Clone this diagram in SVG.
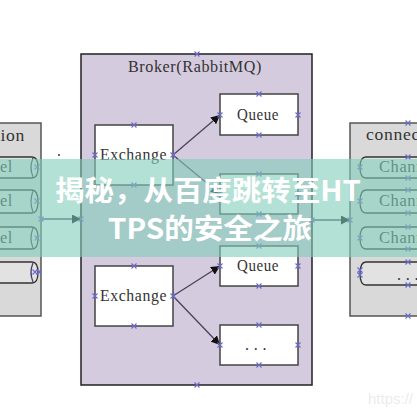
<svg xmlns="http://www.w3.org/2000/svg" width="417" height="417" viewBox="0 0 417 417">
<defs>
<style>
.t{font-family:"Liberation Serif","DejaVu Serif",serif;font-size:16px;fill:#333;letter-spacing:0.6px}
.box{fill:#fff;stroke:#444;stroke-width:1.5}
.conn{fill:#d9d9d9;stroke:#555;stroke-width:1.5}
.ch{fill:#e2e2e2;stroke:#333;stroke-width:1.3}
.ln{stroke:#4a4060;stroke-width:1.3;fill:none}
.x{stroke:#6a6ad0;stroke-width:1.1;fill:none}
.ban{font-family:"Noto Sans CJK SC","Noto Sans",sans-serif;font-weight:bold;font-size:28px;fill:#fff}
</style>
<marker id="ah" viewBox="0 0 10 10" refX="10" refY="5" markerWidth="9" markerHeight="9" markerUnits="userSpaceOnUse" orient="auto">
<path d="M0,0 L10,5 L0,10 z" fill="#111"/>
</marker>
<path id="xm" d="M-2.5,-2.5 L2.5,2.5 M-2.5,2.5 L2.5,-2.5" class="x"/>
</defs>
<rect width="417" height="417" fill="#fff"/>

<g id="conn-left">
<rect x="-80" y="123" width="121" height="193" class="conn"/>
<text x="-59" y="141" class="t" textLength="84" lengthAdjust="spacingAndGlyphs">connection</text>
<path d="M-80,157 H32 Q38,157 38,167.5 Q38,178 32,178 H-80" class="ch"/>
<path d="M33,158 Q29,167.5 33,177" class="ln" stroke="#333"/>
<text x="-46" y="172" class="t" textLength="59" lengthAdjust="spacingAndGlyphs">Channel</text>
<path d="M-80,190 H32 Q38,190 38,201.5 Q38,213 32,213 H-80" class="ch"/>
<path d="M33,191 Q29,201.5 33,212" class="ln" stroke="#333"/>
<text x="-46" y="206" class="t" textLength="59" lengthAdjust="spacingAndGlyphs">Channel</text>
<path d="M-80,227 H32 Q38,227 38,238 Q38,249 32,249 H-80" class="ch"/>
<path d="M33,228 Q29,238 33,248" class="ln" stroke="#333"/>
<text x="-46" y="243" class="t" textLength="59" lengthAdjust="spacingAndGlyphs">Channel</text>
<path d="M-80,262 H32 Q38,262 38,272.5 Q38,283 32,283 H-80" class="ch"/>
<path d="M33,263 Q29,272.5 33,282" class="ln" stroke="#333"/>
</g>

<g id="broker">
<rect x="81" y="54" width="231" height="331" fill="#d5cbde" stroke="#222" stroke-width="1.5"/>
<text x="128" y="72" class="t" textLength="134" lengthAdjust="spacingAndGlyphs">Broker(RabbitMQ)</text>
</g>

<g id="exchange1"><rect x="95" y="125" width="78" height="60" class="box"/><text x="100" y="160" class="t" textLength="67" lengthAdjust="spacingAndGlyphs">Exchange</text></g>
<g id="exchange2"><rect x="95" y="266" width="78" height="60" class="box"/><text x="100" y="301" class="t" textLength="67" lengthAdjust="spacingAndGlyphs">Exchange</text></g>
<g id="queue1"><rect x="220" y="94" width="78" height="41" class="box"/><text x="237" y="120" class="t" textLength="42" lengthAdjust="spacingAndGlyphs">Queue</text></g>
<g id="queue-mid"><rect x="220" y="174" width="78" height="40" class="box"/></g>
<g id="queue2"><rect x="220" y="246" width="78" height="40" class="box"/><text x="237" y="271" class="t" textLength="42" lengthAdjust="spacingAndGlyphs">Queue</text></g>
<g id="queue-more"><rect x="220" y="325" width="78" height="40" class="box"/><text x="245" y="350" class="t" textLength="22">...</text></g>

<g id="conn-right">
<rect x="350" y="123" width="100" height="193" class="conn"/>
<text x="366" y="140" class="t" textLength="84" lengthAdjust="spacingAndGlyphs">connection</text>
<path d="M430,157 H366 Q360,157 360,167.5 Q360,178 366,178 H430" class="ch"/>
<text x="379" y="172" class="t" textLength="59" lengthAdjust="spacingAndGlyphs">Channel</text>
<path d="M430,190 H366 Q360,190 360,201.5 Q360,213 366,213 H430" class="ch"/>
<text x="379" y="206" class="t" textLength="59" lengthAdjust="spacingAndGlyphs">Channel</text>
<path d="M430,227 H366 Q360,227 360,238 Q360,249 366,249 H430" class="ch"/>
<text x="379" y="243" class="t" textLength="59" lengthAdjust="spacingAndGlyphs">Channel</text>
<path d="M430,262 H366 Q360,262 360,273.5 Q360,285 366,285 H430" class="ch"/>
<text x="397" y="280" class="t" textLength="22">...</text>
</g>

<circle cx="59" cy="155" r="0.9" fill="#222"/>

<g id="connectors">
<line x1="173" y1="155" x2="220" y2="115" class="ln" marker-end="url(#ah)"/>
<line x1="173" y1="155" x2="220" y2="194" class="ln" marker-end="url(#ah)"/>
<line x1="173" y1="296" x2="220" y2="266" class="ln" marker-end="url(#ah)"/>
<line x1="173" y1="296" x2="220" y2="345" class="ln" marker-end="url(#ah)"/>
<line x1="41" y1="219" x2="81" y2="219" class="ln" marker-end="url(#ah)"/>
<line x1="312" y1="220" x2="350" y2="220" class="ln" marker-end="url(#ah)"/>
</g>

<g id="markers">
<use href="#xm" x="197" y="54"/><use href="#xm" x="197" y="385"/>
<use href="#xm" x="134" y="125"/><use href="#xm" x="95" y="155"/><use href="#xm" x="173" y="155"/><use href="#xm" x="134" y="185"/>
<use href="#xm" x="134" y="266"/><use href="#xm" x="95" y="296"/><use href="#xm" x="173" y="296"/><use href="#xm" x="134" y="326"/>
<use href="#xm" x="259" y="94"/><use href="#xm" x="220" y="115"/><use href="#xm" x="298" y="115"/><use href="#xm" x="259" y="135"/>
<use href="#xm" x="259" y="174"/><use href="#xm" x="220" y="194"/><use href="#xm" x="298" y="194"/><use href="#xm" x="259" y="214"/>
<use href="#xm" x="259" y="246"/><use href="#xm" x="220" y="266"/><use href="#xm" x="298" y="266"/><use href="#xm" x="259" y="286"/>
<use href="#xm" x="259" y="325"/><use href="#xm" x="220" y="345"/><use href="#xm" x="298" y="345"/><use href="#xm" x="259" y="365"/>
<use href="#xm" x="41" y="219"/><use href="#xm" x="81" y="219"/><use href="#xm" x="312" y="220"/><use href="#xm" x="350" y="220"/>
<use href="#xm" x="37" y="167"/><use href="#xm" x="37" y="201"/><use href="#xm" x="37" y="238"/><use href="#xm" x="35" y="272"/><use href="#xm" x="39" y="272"/>
<use href="#xm" x="408" y="123"/><use href="#xm" x="408" y="316"/>
<use href="#xm" x="408" y="157"/><use href="#xm" x="408" y="178"/><use href="#xm" x="408" y="190"/><use href="#xm" x="408" y="213"/>
<use href="#xm" x="408" y="227"/><use href="#xm" x="408" y="249"/><use href="#xm" x="408" y="262"/><use href="#xm" x="408" y="285"/>
<use href="#xm" x="360" y="167"/><use href="#xm" x="360" y="201"/><use href="#xm" x="360" y="238"/><use href="#xm" x="360" y="270"/><use href="#xm" x="360" y="275"/>
</g>

<text x="368" y="404" font-family="Liberation Sans,sans-serif" font-size="15" fill="#ececec">https://</text>

<g id="banner">
<rect x="0" y="159" width="417" height="98" fill="rgb(130,205,185)" fill-opacity="0.6"/>
<text x="208" y="201" class="ban" text-anchor="middle" textLength="306" lengthAdjust="spacingAndGlyphs">揭秘，从百度跳转至HT</text>
<text x="210" y="239" class="ban" text-anchor="middle" textLength="204" lengthAdjust="spacingAndGlyphs">TPS的安全之旅</text>
</g>
</svg>
